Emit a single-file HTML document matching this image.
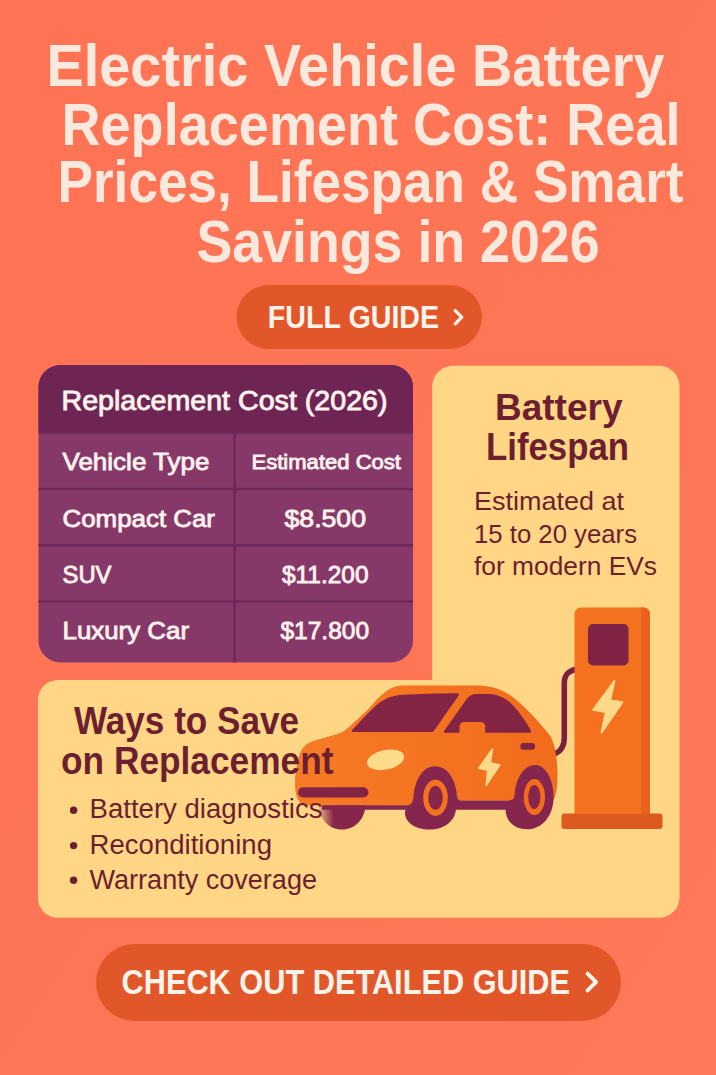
<!DOCTYPE html>
<html lang="en">
<head>
<meta charset="utf-8">
<title>Electric Vehicle Battery Replacement Cost</title>
<style>
  html, body { margin: 0; padding: 0; }
  body { width: 716px; height: 1075px; overflow: hidden; background: #ff7556; }
  svg { display: block; }
  text { font-family: "Liberation Sans", sans-serif; }
  .b { font-weight: bold; }
  .title { fill: #fce9dd; font-weight: bold; font-size: 60px; }
  .btn { fill: #fff3ea; font-weight: bold; }
  .th { fill: #fdf2ed; stroke: #fdf2ed; stroke-width: 0.85px; paint-order: stroke; }
  .mar { fill: #6d1f30; }
</style>
</head>
<body>
<svg width="716" height="1075" viewBox="0 0 716 1075">
  <defs>
    <linearGradient id="bg" x1="0" y1="0" x2="1" y2="1">
      <stop offset="0" stop-color="#fe7354"/>
      <stop offset="1" stop-color="#ff7858"/>
    </linearGradient>
    <linearGradient id="carg" x1="0" y1="0" x2="1" y2="0">
      <stop offset="0" stop-color="#f67a26"/>
      <stop offset="1" stop-color="#f16c1c"/>
    </linearGradient>
  </defs>

  <!-- background -->
  <rect x="0" y="0" width="716" height="1075" fill="url(#bg)"/>

  <!-- TITLE -->
  <g id="title">
    <text class="title" x="46.5" y="85.5" textLength="618" lengthAdjust="spacingAndGlyphs">Electric Vehicle Battery</text>
    <text class="title" x="61.5" y="144.5" textLength="619" lengthAdjust="spacingAndGlyphs">Replacement Cost: Real</text>
    <text class="title" x="57.5" y="202" textLength="626" lengthAdjust="spacingAndGlyphs">Prices, Lifespan &amp; Smart</text>
    <text class="title" x="196.5" y="261.5" textLength="403" lengthAdjust="spacingAndGlyphs">Savings in 2026</text>
  </g>

  <!-- FULL GUIDE button -->
  <g id="btn1">
    <rect x="236.5" y="285" width="245.5" height="64" rx="32" ry="32" fill="#e2572a"/>
    <text class="btn" x="267.7" y="327.5" font-size="31.5" textLength="171.5" lengthAdjust="spacingAndGlyphs">FULL GUIDE</text>
    <path d="M455.2 310.6 L461.8 317.2 L455.2 323.8" fill="none" stroke="#fff3ea" stroke-width="3.3" stroke-linecap="round" stroke-linejoin="round"/>
  </g>

  <!-- YELLOW L-SHAPED CARD -->
  <g id="card">
    <path fill="#ffd685" d="
      M453 365.8 H659 a20.5 20.5 0 0 1 20.5 20.5 V897.3 a20.5 20.5 0 0 1 -20.5 20.5 H58 a20 20 0 0 1 -20 -20 V699.9 a20 20 0 0 1 20 -20 H432.2 V386.3 a20.8 20.8 0 0 1 20.8 -20.5 Z"/>
  </g>

  <!-- TABLE -->
  <g id="table">
    <clipPath id="tclip"><rect x="38.5" y="365" width="374.5" height="297.5" rx="22" ry="22"/></clipPath>
    <g clip-path="url(#tclip)">
      <rect x="38" y="365" width="376" height="298" fill="#863969"/>
      <rect x="38" y="365" width="376" height="67.5" fill="#6f2553"/>
      <g stroke="#6f2658" stroke-width="2.5">
        <line x1="38" y1="432.5" x2="414" y2="432.5"/>
        <line x1="38" y1="488.9" x2="414" y2="488.9"/>
        <line x1="38" y1="545.2" x2="414" y2="545.2"/>
        <line x1="38" y1="601.4" x2="414" y2="601.4"/>
        <line x1="234.6" y1="432.5" x2="234.6" y2="663"/>
      </g>
    </g>
    <text class="th" x="61.5" y="410" font-size="27.5" textLength="326" lengthAdjust="spacingAndGlyphs">Replacement Cost (2026)</text>
    <text class="th" x="62.5" y="470" font-size="24.5" textLength="147" lengthAdjust="spacingAndGlyphs">Vehicle Type</text>
    <text class="th" x="251.5" y="469" font-size="21" textLength="149.5" lengthAdjust="spacingAndGlyphs">Estimated Cost</text>
    <text class="th" x="62.5" y="526.5" font-size="24.5" textLength="152.5" lengthAdjust="spacingAndGlyphs">Compact Car</text>
    <text class="th" x="62.5" y="583" font-size="24.5" textLength="49" lengthAdjust="spacingAndGlyphs">SUV</text>
    <text class="th" x="62.5" y="638.5" font-size="24.5" textLength="126.5" lengthAdjust="spacingAndGlyphs">Luxury Car</text>
    <text class="th" x="284.5" y="526.5" font-size="24.5" textLength="81.5" lengthAdjust="spacingAndGlyphs">$8.500</text>
    <text class="th" x="282" y="583" font-size="24.5" textLength="86.5" lengthAdjust="spacingAndGlyphs">$11.200</text>
    <text class="th" x="280.5" y="638.5" font-size="24.5" textLength="88.5" lengthAdjust="spacingAndGlyphs">$17.800</text>
  </g>

  <!-- BATTERY LIFESPAN text -->
  <g id="lifespan">
    <text class="mar b" x="495" y="419.6" font-size="37.6" textLength="127.5" lengthAdjust="spacingAndGlyphs">Battery</text>
    <text class="mar b" x="486" y="460.3" font-size="39" textLength="143" lengthAdjust="spacingAndGlyphs">Lifespan</text>
    <text class="mar" x="474" y="509.5" font-size="26" textLength="150" lengthAdjust="spacingAndGlyphs">Estimated at</text>
    <text class="mar" x="474" y="542.6" font-size="26" textLength="163" lengthAdjust="spacingAndGlyphs">15 to 20 years</text>
    <text class="mar" x="474" y="574.5" font-size="26" textLength="183" lengthAdjust="spacingAndGlyphs">for modern EVs</text>
  </g>

  <!-- CAR + CHARGER placeholder -->
  <g id="art">
    <!-- charger -->
    <g id="charger">
      <!-- cable -->
      <path fill="none" stroke="#7a2140" stroke-width="5.6" stroke-linecap="round"
        d="M580 668.6 C568 670, 564.3 675, 564.3 683 V738 C564.3 746, 561 751, 555.5 753.5"/>
      <rect x="561.5" y="813.5" width="101" height="15.5" rx="3" fill="#dc5a20"/>
      <path fill="#f4721f" d="M574.5 814 V614 a6.5 6.5 0 0 1 6.5 -6.5 H643.5 a6.5 6.5 0 0 1 6.5 6.5 V814 Z"/>
      <path fill="#e9611c" d="M641.2 607.5 H643.5 a6.5 6.5 0 0 1 6.5 6.5 V814 H641.2 Z"/>
      <rect x="588" y="624" width="40.5" height="41.5" rx="5" fill="#812344"/>
      <path fill="#ffd98a" d="M614.4 681 L593.2 709.8 L605.8 711.9 L601.6 732.5 L622.4 702.3 L610.2 700.4 Z" stroke="#ffd98a" stroke-width="2" stroke-linejoin="round"/>
    </g>
    <!-- car -->
    <g id="car">
      <!-- far-side front wheel (shadowy) -->
      <defs>
        <linearGradient id="farw" x1="0" y1="0" x2="1" y2="0">
          <stop offset="0" stop-color="#86264a" stop-opacity="0.15"/>
          <stop offset="0.32" stop-color="#86264a" stop-opacity="1"/>
        </linearGradient>
      </defs>
      <path fill="url(#farw)" d="M318.5 805 H365.5 C365 819, 355 829.5, 342 829.5 C329 829.5, 319 819, 318.5 805 Z"/>
      <!-- body -->
      <path fill="url(#carg)" d="
        M402 685.4
        H478
        C492 685.4, 505 690.5, 514 698
        C528 709.5, 540.5 723.5, 550 735.5
        C555.5 744, 557.5 760, 557.5 777
        C557.5 787, 556 795, 553.4 800.5
        H413 V805.5
        H307
        C300.5 805.5, 296.5 799, 295.6 792
        C294.8 786, 294.8 780, 295.4 775
        C296.2 768, 297.3 763, 298.5 758.5
        C300 752.5, 302 747.5, 307 744
        C312.5 740.5, 320 739, 327 737
        C334 735, 340 733.8, 344 731
        C349 727.5, 357 719.5, 365.4 711.9
        C372 706, 376 699.5, 382 694.5
        C388.5 689, 395 685.4, 402 685.4 Z"/>
      <!-- underbody strip + tyres -->
      <path fill="#86264e" d="
        M322 805.3 H406.5
        C411 805.3, 413 802.5, 413.4 797.5
        C414.6 781, 422 766.2, 435.2 766.2
        C448.4 766.2, 456 781, 457 796
        C457.2 799, 458.2 800.4, 461 800.4
        H508
        C512.5 800.4, 514.3 799, 514.6 795
        C515.6 780, 523 765.1, 535.2 765.1
        C547 765.1, 553.6 782, 553.6 797
        C553.6 815, 543 829.3, 527 829.3
        C514 829.3, 505.6 821, 505.6 809.7
        H455.9
        C455 821, 444 829.6, 429.5 829.6
        C415 829.6, 405 822, 405 813
        C405 811.5, 405.3 810.5, 405.8 809.7
        H322 Z"/>
      <!-- windows -->
      <path fill="#832444" d="
        M353.2 732
        C351.5 732, 351.3 730.8, 352.6 729.6
        C360 722, 368 712.5, 376 705.5
        C383 699.5, 391 695.8, 400 695
        C418 693.6, 440 693.6, 457.5 693.3
        C459 693.3, 459.4 694.2, 458.6 695.4
        L434.2 730.5
        C433.4 731.6, 432.4 732, 431.2 732 Z"/>
      <path fill="#832444" d="
        M445.5 732.8
        C444 732.8, 443.6 731.8, 444.4 730.6
        L466.5 699.2
        C469 695.6, 472.5 694, 477.1 693.9
        H489
        C500 693.9, 508.5 700, 515 707.5
        C521.5 715, 527 723.5, 530.8 730.2
        C531.6 731.7, 531 732.8, 529.4 732.8
        H485.2 V726.5 a4.5 4.5 0 0 0 -4.5 -4.5 H464 a4.5 4.5 0 0 0 -4.5 4.5 V732.8 Z"/>
      <!-- handle -->
      <rect x="520.3" y="743" width="14.8" height="6.8" rx="3.4" fill="#832444"/>
      <!-- headlight -->
      <ellipse cx="385.6" cy="759.8" rx="18.9" ry="9.8" fill="#ffdb8c" transform="rotate(-12 385.5 759.7)"/>
      <!-- grille -->
      <rect x="298" y="787.3" width="70.4" height="10.2" rx="5.1" fill="#832444"/>
      <!-- bolt -->
      <path fill="#ffd98a" stroke="#ffd98a" stroke-width="1.6" stroke-linejoin="round" d="M492.4 749 L478.8 768.2 L487.8 770.3 L486.2 785.4 L499.8 765.1 L490.4 763 Z"/>
      <!-- hubs -->
      <ellipse cx="435.5" cy="797.8" rx="12.3" ry="18.1" fill="#f4721f"/>
      <ellipse cx="435.5" cy="797.8" rx="7.3" ry="12.1" fill="#86264a"/>
      <ellipse cx="534.4" cy="797" rx="10.6" ry="18" fill="#f16c1c"/>
      <ellipse cx="534.3" cy="797" rx="6.1" ry="12.1" fill="#86264a"/>
    </g>
  </g>

  <!-- WAYS TO SAVE text -->
  <g id="ways">
    <text class="mar b" x="74" y="733.5" font-size="39" textLength="225" lengthAdjust="spacingAndGlyphs">Ways to Save</text>
    <text class="mar b" x="61" y="774" font-size="39" textLength="272.5" lengthAdjust="spacingAndGlyphs">on Replacement</text>
    <circle class="mar" cx="73.6" cy="810.2" r="3.7"/>
    <circle class="mar" cx="73.6" cy="845.6" r="3.7"/>
    <circle class="mar" cx="73.6" cy="880.2" r="3.7"/>
    <text class="mar" x="89.5" y="817.5" font-size="27" textLength="233" lengthAdjust="spacingAndGlyphs">Battery diagnostics</text>
    <text class="mar" x="89.5" y="853.5" font-size="27" textLength="182.5" lengthAdjust="spacingAndGlyphs">Reconditioning</text>
    <text class="mar" x="89.5" y="888.5" font-size="27" textLength="227.5" lengthAdjust="spacingAndGlyphs">Warranty coverage</text>
  </g>

  <!-- CHECK OUT button -->
  <g id="btn2">
    <rect x="96" y="944" width="525" height="77" rx="38.5" ry="38.5" fill="#e2572a"/>
    <text class="btn" x="121.5" y="993.6" font-size="34.5" textLength="448.5" lengthAdjust="spacingAndGlyphs">CHECK OUT DETAILED GUIDE</text>
    <path d="M587.6 973.6 L596 982 L587.6 990.4" fill="none" stroke="#fff3ea" stroke-width="3.9" stroke-linecap="round" stroke-linejoin="round"/>
  </g>
</svg>
</body>
</html>
